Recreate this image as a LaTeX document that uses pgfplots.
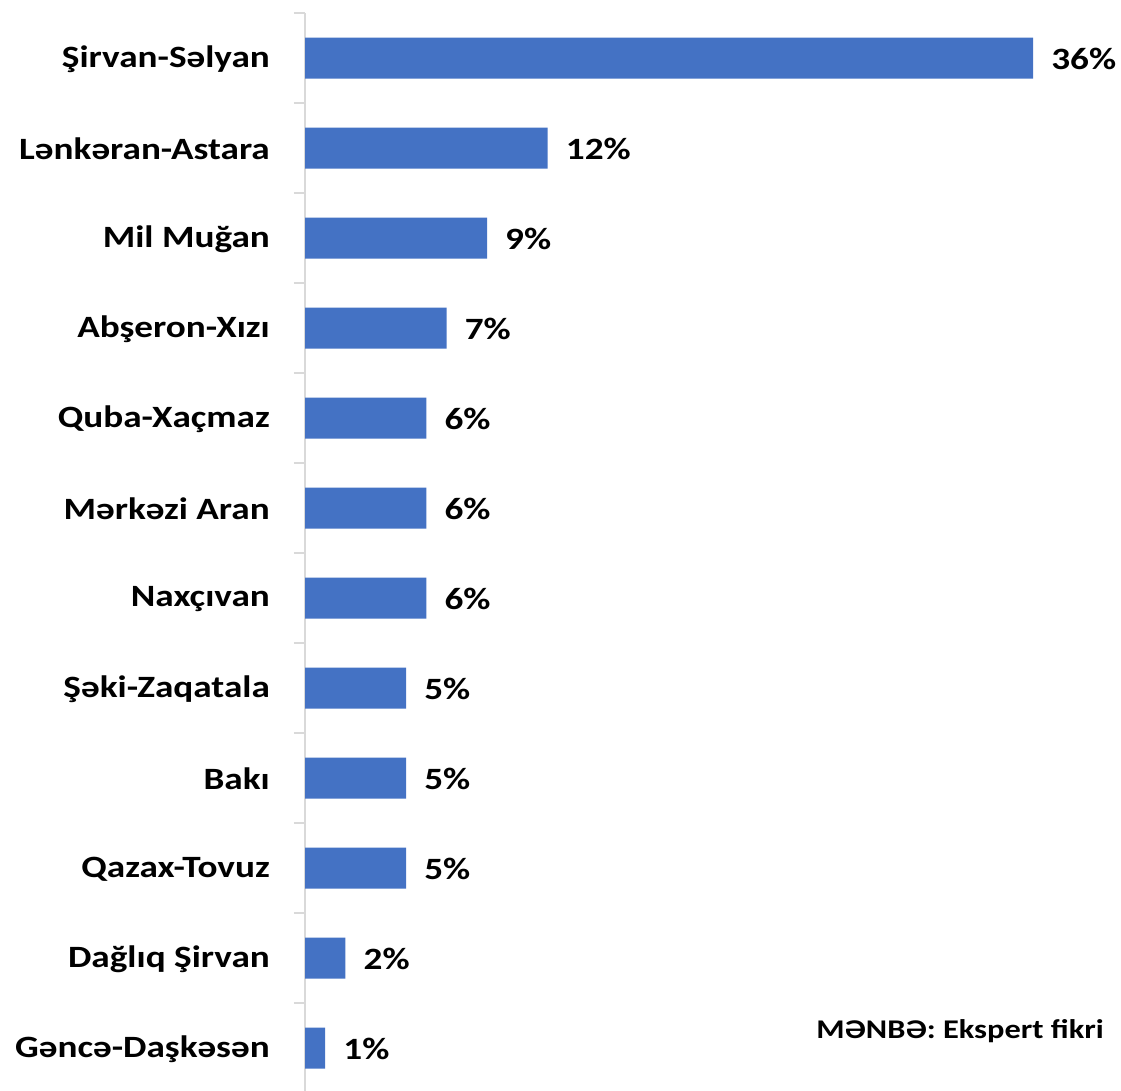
\documentclass[border=0pt]{standalone}
\usepackage{pgfplots}
\pgfplotsset{compat=1.18}
\usepackage{fontspec}
\setmainfont{Carlito}[FakeStretch=1.2]
\definecolor{barblue}{HTML}{4472C4}
\definecolor{axgray}{HTML}{D9D9D9}
\begin{document}
\begin{tikzpicture}[x=1pt,y=1pt]
\path[use as bounding box] (0,0) rectangle (1121,1090);
\begin{axis}[
  at={(305pt,1077pt)}, anchor=north west,
  scale only axis,
  width=809pt, height=1080pt,
  xmin=0, xmax=40,
  ymin=-0.5, ymax=11.5,
  y dir=reverse,
  xbar, bar width=41pt,
  axis x line=none,
  axis y line*=left,
  axis line style={axgray, line width=1.5pt, -},
  ytick={0,...,11},
  yticklabels={Şirvan-Səlyan,Lənkəran-Astara,Mil Muğan,Abşeron-Xızı,Quba-Xaçmaz,Mərkəzi Aran,Naxçıvan,Şəki-Zaqatala,Bakı,Qazax-Tovuz,Dağlıq Şirvan,Gəncə-Daşkəsən},
  major tick length=0pt,
  minor ytick={-0.5,0.5,...,11.5},
  minor tick length=11pt,
  tick align=outside,
  minor tick style={axgray, line width=1.5pt},
  /pgf/number format/assume math mode=true,
  yticklabel style={font=\fontsize{31}{37}\selectfont\bfseries, inner sep=0pt, xshift=-35pt, yshift=-1pt, anchor=east},
  nodes near coords={\pgfmathprintnumber{\pgfplotspointmeta}\%},
  every node near coord/.append style={font=\fontsize{31}{37}\selectfont\bfseries, anchor=west, inner sep=0pt, xshift=18pt, yshift=-1pt, black},
  clip=false,
]
\addplot[fill=barblue, draw=none] coordinates {
(36,0) (12,1) (9,2) (7,3) (6,4) (6,5) (6,6) (5,7) (5,8) (5,9) (2,10) (1,11)};
\end{axis}
\node[anchor=base east, inner sep=0pt, font=\fontsize{27}{32}\selectfont\bfseries] at (1104,52) {MƏNBƏ: Ekspert fikri};
\end{tikzpicture}
\end{document}
